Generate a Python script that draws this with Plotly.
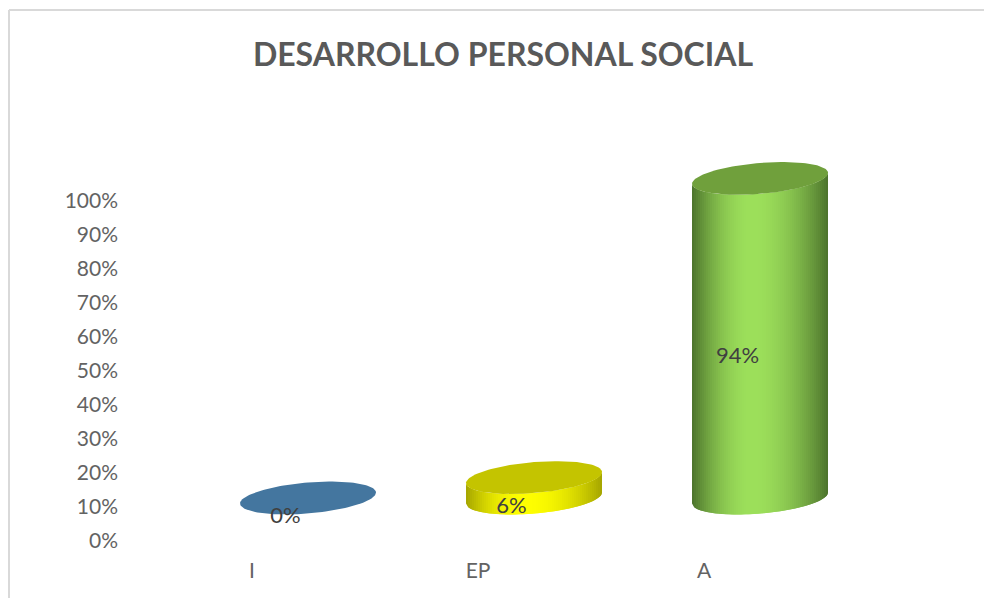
import numpy as np
import plotly.graph_objects as go

categories = ["I", "EP", "A"]
values = [0, 6, 94]
labels = ["0%", "6%", "94%"]
y_ticks = list(range(0, 101, 10))
y_tick_text = [f"{v}%" for v in y_ticks]
top_colors = ["#44769F", "#C4C400", "#70A03C"]
bright = [(68, 118, 159), (255, 255, 0), (157, 224, 91)]
dark = [(50, 90, 120), (165, 165, 0), (76, 115, 44)]

W, H = 984, 598
PL, PR, PT, PB = 125, 935, 133, 541
PX_CAT, PX_PCT = 226.0, 3.4
X0 = 252
DX = 56 / PX_CAT            # depth offset of the 3-D floor
DY = 43 / PX_PCT
A_PX, B_PX, TILT = 68.0, 15.5, 5.5

fig = go.Figure()


def edge(u, sign):
    return (-TILT * u + sign * B_PX * np.sqrt(np.clip(1 - u * u, 0, 1))) / PX_PCT


def shade(i, u):
    peak = -0.12
    d = abs(u - peak) / (1 - peak if u > peak else 1 + peak)
    p = 1 - min(d, 1) ** 1.9
    c = [dark[i][k] + (bright[i][k] - dark[i][k]) * p for k in range(3)]
    return "rgb(%d,%d,%d)" % tuple(c)


for i, v in enumerate(values):
    cx = i + DX
    base = DY
    top = DY + v
    if v > 0:
        n = 68
        us = np.linspace(-1, 1, n + 1)
        for j in range(n):
            seg = np.linspace(us[j], us[min(j + 2, n)], 5)
            xs = cx + seg * A_PX / PX_CAT
            lower = base - edge(seg, 1)
            upper = top - edge(seg, 1)
            fig.add_trace(go.Scatter(
                x=np.r_[xs, xs[::-1]], y=np.r_[lower, upper[::-1]],
                mode="lines", fill="toself", line=dict(width=0),
                fillcolor=shade(i, (us[j] + us[j + 1]) / 2),
                hoverinfo="skip", showlegend=False))
    t = np.linspace(0, 2 * np.pi, 121)
    u = np.cos(t)
    fig.add_trace(go.Scatter(
        x=cx + u * A_PX / PX_CAT,
        y=top - (-TILT * u + B_PX * np.sin(t)) / PX_PCT,
        mode="lines", fill="toself", line=dict(width=0),
        fillcolor=top_colors[i], hoverinfo="skip", showlegend=False))

# data labels
fig.add_trace(go.Scatter(
    x=[i + DX - 22.5 / PX_CAT for i in range(len(values))],
    y=[DY + v / 2 - 19.5 / PX_PCT for v in values],
    mode="text", text=labels, textposition="middle center",
    textfont=dict(family="Lato", size=22, color="#404040"),
    hoverinfo="skip", showlegend=False))

fx = lambda px: (px - PL) / (PR - PL)
fy = lambda py: (PB - py) / (PB - PT)
border = dict(type="line", xref="paper", yref="paper", layer="below",
              line=dict(color="#D9D9D9", width=2))

fig.update_layout(
    width=W, height=H,
    margin=dict(l=PL, r=W - PR, t=PT, b=H - PB, pad=0),
    paper_bgcolor="white", plot_bgcolor="white", showlegend=False,
    title=dict(text="<b>DESARROLLO PERSONAL SOCIAL</b>", x=503 / W, xanchor="center",
               y=1 - 55 / H, yanchor="middle",
               font=dict(family="Lato", size=32, color="#595959")),
    xaxis=dict(range=[(PL - X0) / PX_CAT, (PR - X0) / PX_CAT],
               tickmode="array", tickvals=list(range(len(categories))), ticktext=categories,
               showgrid=False, zeroline=False, showline=False, ticks="",
               ticklabelstandoff=15,
               tickfont=dict(family="Lato", size=21, color="#636363")),
    yaxis=dict(range=[0, (PB - PT) / PX_PCT],
               tickmode="array", tickvals=y_ticks, ticktext=y_tick_text,
               showgrid=False, zeroline=False, showline=False, ticks="",
               ticklabelstandoff=6,
               tickfont=dict(family="Lato", size=21, color="#636363")),
    shapes=[
        dict(border, x0=fx(9), x1=fx(W), y0=fy(10), y1=fy(10)),
        dict(border, x0=fx(9), x1=fx(9), y0=fy(10), y1=fy(H)),
    ],
)
fig.write_html("out.html", config={"displayModeBar": False},
               post_script="document.body.style.margin='0';document.body.style.overflow='hidden';")
